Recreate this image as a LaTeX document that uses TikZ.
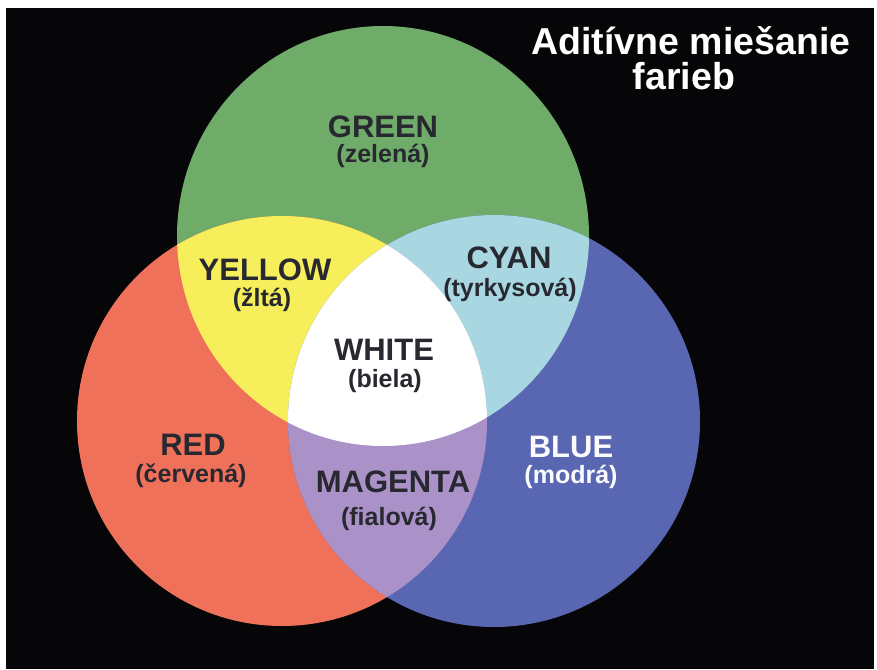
\documentclass[tikz,border=0pt]{standalone}
\usepackage{fontspec}
\setmainfont{Liberation Sans}
\definecolor{cgreen}{RGB}{111,171,105}
\definecolor{cred}{RGB}{240,113,90}
\definecolor{cblue}{RGB}{89,103,179}
\definecolor{cyellow}{RGB}{246,238,90}
\definecolor{ccyan}{RGB}{168,215,225}
\definecolor{cmag}{RGB}{170,146,200}
\definecolor{ctext}{RGB}{40,40,48}
\definecolor{cbg}{RGB}{6,6,8}
\tikzset{
  lbl/.style={anchor=base, inner sep=0pt, text=ctext, font=\fontsize{31}{31}\selectfont\bfseries},
  sub/.style={anchor=base, inner sep=0pt, text=ctext, font=\fontsize{25}{25}\selectfont\bfseries},
  ttl/.style={anchor=base, inner sep=0pt, text=white, font=\fontsize{37.5}{37.5}\selectfont\bfseries},
  lightlbl/.style={text=white!95!cmag}
}
\begin{document}
\begin{tikzpicture}[x=1pt,y=-1pt]
\useasboundingbox (0,0) rectangle (877,669);
\fill[white] (0,0) rectangle (877,669);
\fill[cbg] (6,8) rectangle (874,669);
% circles
\def\greenpath{(383,236) ellipse [x radius=206pt, y radius=210pt]}
\def\redpath{(282,421) circle [radius=205pt]}
\def\bluepath{(494,421) circle [radius=206pt]}
\fill[cgreen] \greenpath;
\fill[cred] \redpath;
\fill[cblue] \bluepath;
\begin{scope}
  \clip \redpath;
  \fill[cyellow] \greenpath;
\end{scope}
\begin{scope}
  \clip \greenpath;
  \fill[ccyan] \bluepath;
\end{scope}
\begin{scope}
  \clip \redpath;
  \fill[cmag] \bluepath;
\end{scope}
\begin{scope}
  \clip \redpath;
  \clip \greenpath;
  \fill[white] \bluepath;
\end{scope}
% title
\node[ttl] (title1) at (691,55) {Aditívne miešanie};
\node[ttl] (title2) at (684,89) {farieb};
% labels
\node[lbl] (green) at (383,137) {GREEN};
\node[sub] (greensub) at (383,162) {(zelená)};
\node[lbl] (yellow) at (265,280) {YELLOW};
\node[sub] (yellowsub) at (262,306) {(žltá)};
\node[lbl] (cyan) at (509,268) {CYAN};
\node[sub] (cyansub) at (510,296) {(tyrkysová)};
\node[lbl] (whitel) at (384,360) {WHITE};
\node[sub] (whitesub) at (385,387) {(biela)};
\node[lbl] (red) at (193,455) {RED};
\node[sub] (redsub) at (191,482) {(červená)};
\node[lbl] (magenta) at (393,492) {MAGENTA};
\node[sub] (magsub) at (389,525) {(fialová)};
\node[lbl,lightlbl] (blue) at (571,457) {BLUE};
\node[sub,lightlbl] (bluesub) at (571,483) {(modrá)};
\end{tikzpicture}
\end{document}
